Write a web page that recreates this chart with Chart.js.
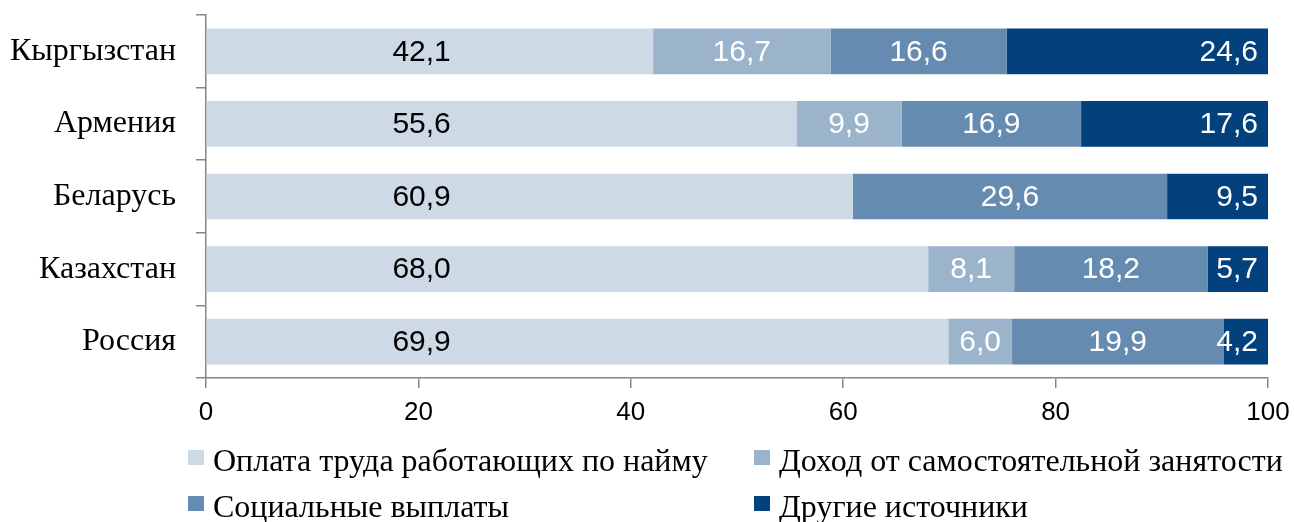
<!DOCTYPE html>
<html lang="ru">
<head>
    <meta charset="UTF-8">
    <title>Структура доходов</title>
    <script src="https://cdn.jsdelivr.net/npm/chart.js"></script>
    <style>
        body {
            margin: 0;
            background: #fff;
        }
        #wrap {
            position: relative;
            width: 1294px;
            height: 522px;
            overflow: hidden;
        }
        #legend {
            position: absolute;
            left: 188px;
            top: 437px;
            display: grid;
            grid-template-columns: 566px auto;
            font-family: "Liberation Serif", "Times New Roman", serif;
            font-size: 32px;
            color: #000;
        }
        #legend div {
            display: flex;
            align-items: center;
            height: 46px;
            white-space: nowrap;
        }
        #legend span {
            display: inline-block;
            width: 16px;
            height: 15px;
            margin-right: 9px;
            margin-top: -6px;
        }
    </style>
</head>
<body>
<div id="wrap">
    <canvas id="chart" width="1294" height="522"></canvas>
    <div id="legend"></div>
</div>
<script>
    // categories and series
    const countries = ['Кыргызстан', 'Армения', 'Беларусь', 'Казахстан', 'Россия'];
    const wages = [42.1, 55.6, 60.9, 68.0, 69.9];
    const selfEmployment = [16.7, 9.9, null, 8.1, 6.0];
    const socialPayments = [16.6, 16.9, 29.6, 18.2, 19.9];
    const otherSources = [24.6, 17.6, 9.5, 5.7, 4.2];
    const xTicks = [0, 20, 40, 60, 80, 100];

    const seriesNames = ['Оплата труда работающих по найму', 'Доход от самостоятельной занятости', 'Социальные выплаты', 'Другие источники'];
    const colors = ['#cdd9e5', '#9bb3cb', '#668bb1', '#03417d'];

    // labels inside bars
    const valueLabels = {
        id: 'valueLabels',
        afterDatasetsDraw(chart) {
            const ctx = chart.ctx;
            const xs = chart.scales.x;
            ctx.save();
            ctx.font = '30px "Liberation Sans", Arial, sans-serif';
            ctx.textBaseline = 'middle';
            chart.data.datasets.forEach((ds, i) => {
                const meta = chart.getDatasetMeta(i);
                meta.data.forEach((bar, j) => {
                    const v = ds.data[j];
                    if (v == null) return;
                    const txt = v.toFixed(1).replace('.', ',');
                    let x;
                    if (i === 0) {
                        ctx.textAlign = 'center';
                        ctx.fillStyle = '#000';
                        x = xs.getPixelForValue(20.3);
                    } else if (i === 3) {
                        ctx.textAlign = 'right';
                        ctx.fillStyle = '#fff';
                        x = bar.x - 10;
                    } else {
                        ctx.textAlign = 'center';
                        ctx.fillStyle = '#fff';
                        x = (bar.x + bar.base) / 2;
                    }
                    ctx.fillText(txt, x, bar.y + 1);
                });
            });
            ctx.restore();
        }
    };

    const allSeries = [wages, selfEmployment, socialPayments, otherSources];

    new Chart(document.getElementById('chart'), {
        type: 'bar',
        data: {
            labels: countries,
            datasets: allSeries.map((d, i) => ({
                label: seriesNames[i],
                data: d,
                backgroundColor: colors[i],
                borderWidth: 0,
                categoryPercentage: 1,
                barPercentage: 0.63
            }))
        },
        options: {
            indexAxis: 'y',
            responsive: false,
            animation: false,
            layout: { padding: { top: 15, right: 26, left: 0, bottom: 0 } },
            plugins: {
                legend: { display: false },
                tooltip: { enabled: false }
            },
            scales: {
                x: {
                    stacked: true,
                    min: 0,
                    max: 100,
                    afterBuildTicks(scale) {
                        scale.ticks = xTicks.map(v => ({ value: v }));
                    },
                    afterFit(scale) {
                        scale.height = 144;
                        scale.paddingLeft = 0;
                        scale.paddingRight = 0;
                    },
                    border: { color: '#868686', width: 1.5 },
                    grid: { drawOnChartArea: false, color: '#868686', tickLength: 10, lineWidth: 1.5 },
                    ticks: {
                        color: '#000',
                        padding: 9,
                        font: { family: '"Liberation Sans", Arial, sans-serif', size: 26 }
                    }
                },
                y: {
                    stacked: true,
                    afterFit(scale) {
                        scale.width = 206;
                        scale.paddingTop = 0;
                        scale.paddingBottom = 0;
                    },
                    border: { color: '#868686', width: 1.5 },
                    grid: { offset: true, drawOnChartArea: false, color: '#868686', tickLength: 10, lineWidth: 1.5 },
                    ticks: {
                        color: '#000',
                        padding: 20,
                        font: { family: '"Liberation Serif", "Times New Roman", serif', size: 32 }
                    }
                }
            }
        },
        plugins: [valueLabels]
    });

    const legend = document.getElementById('legend');
    // grid fills row by row: row 1 = series 0, 1; row 2 = series 2, 3
    seriesNames.forEach((name, i) => {
        const item = document.createElement('div');
        const box = document.createElement('span');
        box.style.background = colors[i];
        item.appendChild(box);
        item.appendChild(document.createTextNode(name));
        legend.appendChild(item);
    });
</script>
</body>
</html>
